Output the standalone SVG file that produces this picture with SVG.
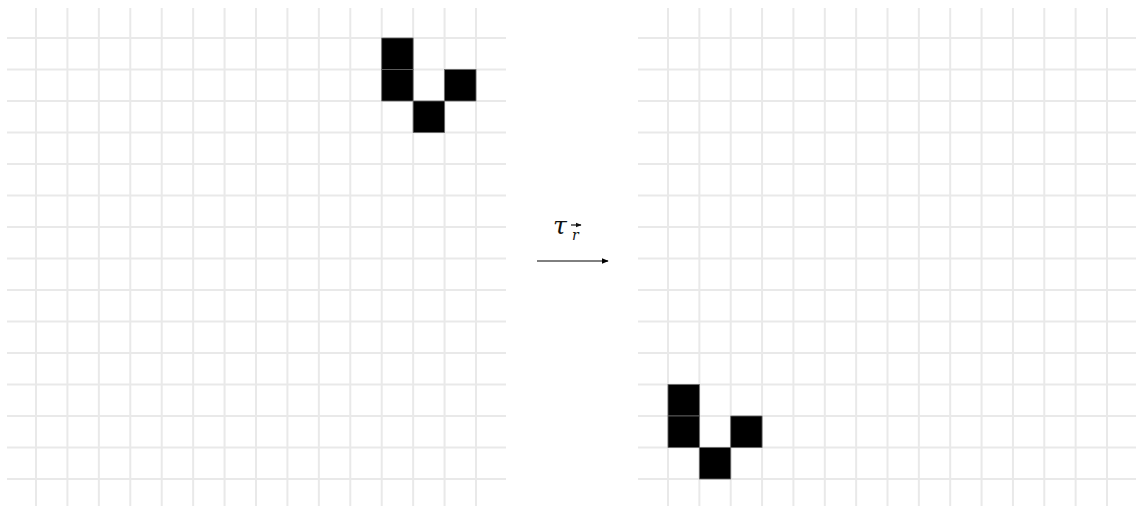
<svg xmlns="http://www.w3.org/2000/svg" width="1136" height="506" viewBox="0 0 1136 506">
  <style>
    .grid { stroke: #e9e9e9; stroke-width: 2; fill: none; }
    .cell { fill: #000; stroke: #666; stroke-width: 0.8; }
    .conn { stroke: #000; stroke-width: 1; fill: none; }
    .lbl { font-family: "DejaVu Serif", "Liberation Serif", serif; font-style: italic; fill: #111; }
  </style>
  <defs>
    <marker id="ah" viewBox="0 0 10 10" refX="9" refY="5" markerWidth="7" markerHeight="7" markerUnits="userSpaceOnUse" orient="auto">
      <path d="M0,1 L10,5 L0,9 Z" fill="#000"/>
    </marker>
    <marker id="ahs" viewBox="0 0 10 10" refX="9" refY="5" markerWidth="6" markerHeight="6" markerUnits="userSpaceOnUse" orient="auto">
      <path d="M0,1 L10,5 L0,9 Z" fill="#111"/>
    </marker>
  </defs>
  <rect width="1136" height="506" fill="#fff"/>

  <g id="grid-left">
    <path class="grid" d="M36,8V506M67.43,8V506M98.86,8V506M130.29,8V506M161.71,8V506M193.14,8V506M224.57,8V506M256,8V506M287.43,8V506M318.86,8V506M350.29,8V506M381.71,8V506M413.14,8V506M444.57,8V506M476,8V506"/>
    <path class="grid" d="M7,38H506M7,69.5H506M7,101H506M7,132.5H506M7,164H506M7,195.5H506M7,227H506M7,258.5H506M7,290H506M7,321.5H506M7,353H506M7,384.5H506M7,416H506M7,447.5H506M7,479H506"/>
    <rect class="cell" x="381.71" y="38" width="31.43" height="31.5"/>
    <rect class="cell" x="381.71" y="69.5" width="31.43" height="31.5"/>
    <rect class="cell" x="444.57" y="69.5" width="31.43" height="31.5"/>
    <rect class="cell" x="413.14" y="101" width="31.43" height="31.5"/>
  </g>

  <g id="grid-right">
    <path class="grid" d="M668,8V506M699.36,8V506M730.71,8V506M762.07,8V506M793.43,8V506M824.79,8V506M856.14,8V506M887.5,8V506M918.86,8V506M950.21,8V506M981.57,8V506M1012.93,8V506M1044.29,8V506M1075.64,8V506M1107,8V506"/>
    <path class="grid" d="M638,38H1136M638,69.5H1136M638,101H1136M638,132.5H1136M638,164H1136M638,195.5H1136M638,227H1136M638,258.5H1136M638,290H1136M638,321.5H1136M638,353H1136M638,384.5H1136M638,416H1136M638,447.5H1136M638,479H1136"/>
    <rect class="cell" x="668" y="384.5" width="31.36" height="31.5"/>
    <rect class="cell" x="668" y="416" width="31.36" height="31.5"/>
    <rect class="cell" x="730.71" y="416" width="31.36" height="31.5"/>
    <rect class="cell" x="699.36" y="447.5" width="31.36" height="31.5"/>
  </g>

  <g id="connectors">
    <line class="conn" x1="537" y1="261" x2="608" y2="261" marker-end="url(#ah)"/>
  </g>

  <g id="label">
    <text class="lbl" x="553" y="234" font-size="25">τ</text>
    <text class="lbl" x="572" y="240" font-size="14">r</text>
    <line x1="571" y1="225" x2="581" y2="225" stroke="#111" stroke-width="1.2" marker-end="url(#ahs)"/>
  </g>
</svg>
